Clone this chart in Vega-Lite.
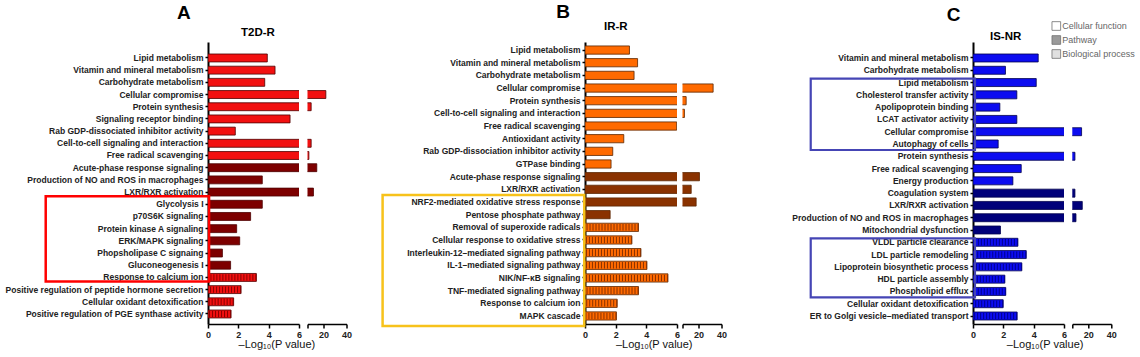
{
  "$schema": "https://vega.github.io/schema/vega-lite/v6.json",
  "padding": {"left": 5, "top": 2, "right": 5, "bottom": 3},
  "background": "white",
  "config": {
    "font": "Liberation Sans",
    "view": {"stroke": null},
    "scale": {"bandPaddingInner": 0.35},
    "axis": {"grid": false, "domainColor": "#000", "tickColor": "#000", "labelColor": "#222", "labelFont": "Liberation Sans", "titleFont": "Liberation Sans"},
    "axisY": {"title": null, "domainWidth": 2, "tickWidth": 1.5, "tickSize": 3, "labelFontSize": 8.5, "labelFontWeight": "bold", "labelPadding": 2, "labelLimit": 0},
    "axisX": {"title": null, "domainWidth": 1.5, "tickWidth": 1.5, "tickSize": 4, "labelFontSize": 9, "labelFontWeight": "bold", "labelPadding": 2, "labelFlush": false, "labelOverlap": false},
    "title": {"font": "Liberation Sans", "color": "#000", "fontWeight": "bold"}
  },
  "datasets": {
    "A": [
      {"name": "Lipid metabolism", "value": 3.91, "type": "Cellular function"},
      {"name": "Vitamin and mineral metabolism", "value": 4.42, "type": "Cellular function"},
      {"name": "Carbohydrate metabolism", "value": 3.74, "type": "Cellular function"},
      {"name": "Cellular compromise", "value": 22, "type": "Cellular function"},
      {"name": "Protein synthesis", "value": 9.2, "type": "Cellular function"},
      {"name": "Signaling receptor binding", "value": 5.41, "type": "Cellular function"},
      {"name": "Rab GDP-dissociated inhibitor activity", "value": 1.8, "type": "Cellular function"},
      {"name": "Cell-to-cell signaling and interaction", "value": 9.2, "type": "Cellular function"},
      {"name": "Free radical scavenging", "value": 7.2, "type": "Cellular function"},
      {"name": "Acute-phase response signaling", "value": 14.1, "type": "Pathway"},
      {"name": "Production of NO and ROS in macrophages", "value": 3.58, "type": "Pathway"},
      {"name": "LXR/RXR activation", "value": 11.2, "type": "Pathway"},
      {"name": "Glycolysis I", "value": 3.58, "type": "Pathway"},
      {"name": "p70S6K signaling", "value": 2.81, "type": "Pathway"},
      {"name": "Protein kinase A signaling", "value": 1.89, "type": "Pathway"},
      {"name": "ERK/MAPK signaling", "value": 2.09, "type": "Pathway"},
      {"name": "Phopsholipase C signaing", "value": 0.95, "type": "Pathway"},
      {"name": "Gluconeogenesis I", "value": 1.49, "type": "Pathway"},
      {"name": "Response to calcium ion", "value": 3.19, "type": "Biological process"},
      {"name": "Positive regulation of peptide hormone secretion", "value": 2.18, "type": "Biological process"},
      {"name": "Cellular oxidant detoxification", "value": 1.69, "type": "Biological process"},
      {"name": "Positive regulation of PGE synthase activity", "value": 1.52, "type": "Biological process"}
    ],
    "B": [
      {"name": "Lipid metabolism", "value": 2.9, "type": "Cellular function"},
      {"name": "Vitamin and mineral metabolism", "value": 3.43, "type": "Cellular function"},
      {"name": "Carbohydrate metabolism", "value": 3.2, "type": "Cellular function"},
      {"name": "Cellular compromise", "value": 32.7, "type": "Cellular function"},
      {"name": "Protein synthesis", "value": 9.2, "type": "Cellular function"},
      {"name": "Cell-to-cell signaling and interaction", "value": 7.7, "type": "Cellular function"},
      {"name": "Free radical scavenging", "value": 5.98, "type": "Cellular function"},
      {"name": "Antioxidant activity", "value": 2.53, "type": "Cellular function"},
      {"name": "Rab GDP-dissociation inhibitor activity", "value": 1.81, "type": "Cellular function"},
      {"name": "GTPase binding", "value": 1.7, "type": "Cellular function"},
      {"name": "Acute-phase response signaling", "value": 20.8, "type": "Pathway"},
      {"name": "LXR/RXR activation", "value": 13.6, "type": "Pathway"},
      {"name": "NRF2-mediated oxidative stress response", "value": 17.9, "type": "Pathway"},
      {"name": "Pentose phosphate pathway", "value": 1.64, "type": "Pathway"},
      {"name": "Removal of superoxide radicals", "value": 3.49, "type": "Biological process"},
      {"name": "Cellular response to oxidative stress", "value": 3.06, "type": "Biological process"},
      {"name": "Interleukin-12–mediated signaling pathway", "value": 3.65, "type": "Biological process"},
      {"name": "IL-1–mediated signaling pathway", "value": 4.04, "type": "Biological process"},
      {"name": "NIK/NF-κB signaling", "value": 5.41, "type": "Biological process"},
      {"name": "TNF-mediated signaling pathway", "value": 3.49, "type": "Biological process"},
      {"name": "Response to calcium ion", "value": 2.1, "type": "Biological process"},
      {"name": "MAPK cascade", "value": 2.05, "type": "Biological process"}
    ],
    "C": [
      {"name": "Vitamin and mineral metabolism", "value": 4.3, "type": "Cellular function"},
      {"name": "Carbohydrate metabolism", "value": 2.14, "type": "Cellular function"},
      {"name": "Lipid metabolism", "value": 4.17, "type": "Cellular function"},
      {"name": "Cholesterol transfer activity", "value": 2.89, "type": "Cellular function"},
      {"name": "Apolipoprotein binding", "value": 1.77, "type": "Cellular function"},
      {"name": "LCAT activator activity", "value": 2.89, "type": "Cellular function"},
      {"name": "Cellular compromise", "value": 14.1, "type": "Cellular function"},
      {"name": "Autophagy of cells", "value": 1.66, "type": "Cellular function"},
      {"name": "Protein synthesis", "value": 8.3, "type": "Cellular function"},
      {"name": "Free radical scavenging", "value": 3.18, "type": "Cellular function"},
      {"name": "Energy production", "value": 2.63, "type": "Cellular function"},
      {"name": "Coagulation system", "value": 8.3, "type": "Pathway"},
      {"name": "LXR/RXR activation", "value": 14.7, "type": "Pathway"},
      {"name": "Production of NO and ROS in macrophages", "value": 9.2, "type": "Pathway"},
      {"name": "Mitochondrial dysfunction", "value": 1.81, "type": "Pathway"},
      {"name": "VLDL particle clearance", "value": 2.96, "type": "Biological process"},
      {"name": "LDL particle remodeling", "value": 3.51, "type": "Biological process"},
      {"name": "Lipoprotein biosynthetic process", "value": 3.22, "type": "Biological process"},
      {"name": "HDL particle assembly", "value": 2.1, "type": "Biological process"},
      {"name": "Phospholipid efflux", "value": 2.16, "type": "Biological process"},
      {"name": "Cellular oxidant detoxification", "value": 1.99, "type": "Biological process"},
      {"name": "ER to Golgi vesicle–mediated transport", "value": 2.91, "type": "Biological process"}
    ],
    "boxesA": [{"from": "Glycolysis I", "to": "Response to calcium ion"}],
    "boxesB": [{"from": "NRF2-mediated oxidative stress response", "to": "MAPK cascade"}],
    "boxesC": [
      {"from": "Lipid metabolism", "to": "Autophagy of cells"},
      {"from": "VLDL particle clearance", "to": "Phospholipid efflux"}
    ]
  },
  "spacing": 29,
  "resolve": {"scale": {"color": "independent", "fill": "independent"}, "legend": {"fill": "independent", "color": "independent"}},
  "hconcat": [
    {
      "title": {"text": "A", "fontSize": 19, "anchor": "start", "frame": "bounds", "dx": 172, "offset": 4.3},
      "resolve": {"scale": {"color": "independent", "fill": "independent"}},
      "hconcat": [
        {
          "title": {"text": "–Log₁₀(P value)", "orient": "bottom", "fontSize": 11, "fontWeight": "normal", "color": "#111", "anchor": "start", "frame": "bounds", "dx": 233.5, "offset": 0},
          "spacing": 4.5,
          "resolve": {"scale": {"color": "independent", "fill": "independent"}},
          "hconcat": [
            {
              "width": 91, "height": 282,
              "title": {"text": "T2D-R", "fontSize": 11.5, "anchor": "start", "frame": "group", "dx": 33, "offset": 3.6},
              "layer": [
                {
                  "data": {"name": "A"},
                  "mark": {"type": "bar", "clip": true, "stroke": "#4d0000", "strokeWidth": 0.8},
                  "encoding": {
                    "y": {"field": "name", "type": "nominal", "scale": {"domain": ["Lipid metabolism","Vitamin and mineral metabolism","Carbohydrate metabolism","Cellular compromise","Protein synthesis","Signaling receptor binding","Rab GDP-dissociated inhibitor activity","Cell-to-cell signaling and interaction","Free radical scavenging","Acute-phase response signaling","Production of NO and ROS in macrophages","LXR/RXR activation","Glycolysis I","p70S6K signaling","Protein kinase A signaling","ERK/MAPK signaling","Phopsholipase C signaing","Gluconeogenesis I","Response to calcium ion","Positive regulation of peptide hormone secretion","Cellular oxidant detoxification","Positive regulation of PGE synthase activity"], "paddingInner": 0.35, "paddingOuter": 0.74, "align": 0.665}},
                    "x": {"field": "value", "type": "quantitative", "scale": {"domain": [0, 6], "nice": false, "zero": true}, "axis": {"values": [0, 2, 4, 6], "labelOverlap": false, "labelBound": false, "title": null}},
                    "color": {"field": "type", "type": "nominal", "scale": {"domain": ["Pathway", "Cellular function", "Biological process"], "range": ["#7d0000", "#f21010", "#f21010"]}, "legend": null}
                  }
                },
                {
                  "data": {"name": "A"},
                  "transform": [{"filter": "datum.type === 'Biological process'"}],
                  "mark": {"type": "rule", "clip": true, "strokeWidth": 6.4, "strokeDash": [1, 2], "strokeCap": "butt", "color": "#8a0000"},
                  "encoding": {"y": {"field": "name", "type": "nominal"}, "x": {"field": "value", "type": "quantitative", "axis": {"values": [0, 2, 4, 6], "labelOverlap": false, "labelBound": false, "title": null}}, "x2": {"datum": 0}}
                },
                {
                  "data": {"name": "boxesA"},
                  "mark": {"type": "rect", "filled": false, "stroke": "#ff0000", "strokeWidth": 2.5, "yOffset": -4, "y2Offset": 0},
                  "encoding": {"y": {"field": "from", "type": "nominal", "bandPosition": 0}, "y2": {"field": "to", "bandPosition": 1}, "x": {"datum": -10.7, "type": "quantitative", "axis": {"values": [0, 2, 4, 6], "labelOverlap": false, "labelBound": false, "title": null}}, "x2": {"datum": 0.07}}
                }
              ]
            },
            {
              "width": 39, "height": 282,
              "layer": [
                {
                  "data": {"name": "A"},
                  "transform": [{"filter": "datum.value > 6"}],
                  "mark": {"type": "bar", "clip": true, "stroke": "#4d0000", "strokeWidth": 0.8},
                  "encoding": {
                    "y": {"field": "name", "type": "nominal", "axis": null, "scale": {"domain": ["Lipid metabolism","Vitamin and mineral metabolism","Carbohydrate metabolism","Cellular compromise","Protein synthesis","Signaling receptor binding","Rab GDP-dissociated inhibitor activity","Cell-to-cell signaling and interaction","Free radical scavenging","Acute-phase response signaling","Production of NO and ROS in macrophages","LXR/RXR activation","Glycolysis I","p70S6K signaling","Protein kinase A signaling","ERK/MAPK signaling","Phopsholipase C signaing","Gluconeogenesis I","Response to calcium ion","Positive regulation of peptide hormone secretion","Cellular oxidant detoxification","Positive regulation of PGE synthase activity"], "paddingInner": 0.35, "paddingOuter": 0.74, "align": 0.665}},
                    "x": {"field": "value", "type": "quantitative", "scale": {"domain": [6, 40], "nice": false, "zero": false}, "axis": {"values": [6, 20, 40], "labelOverlap": false, "labelExpr": "datum.value == 6 ? '' : datum.label", "title": null}},
                    "color": {"field": "type", "type": "nominal", "scale": {"domain": ["Pathway", "Cellular function", "Biological process"], "range": ["#7d0000", "#f21010", "#f21010"]}, "legend": null}
                  }
                }
              ]
            }
          ]
        }
      ]
    },
    {
      "spacing": 64,
      "resolve": {"scale": {"color": "independent", "fill": "independent"}, "legend": {"fill": "independent", "color": "independent"}},
      "hconcat": [
        {
          "title": {"text": "B", "fontSize": 19, "anchor": "start", "frame": "bounds", "dx": 175, "offset": -1.1},
          "resolve": {"scale": {"color": "independent", "fill": "independent"}},
          "hconcat": [
            {
              "title": {"text": "–Log₁₀(P value)", "orient": "bottom", "fontSize": 11, "fontWeight": "normal", "color": "#111", "anchor": "start", "frame": "bounds", "dx": 234.6, "offset": 0},
              "spacing": 1.5,
              "resolve": {"scale": {"color": "independent", "fill": "independent"}},
              "hconcat": [
                {
                  "width": 92, "height": 282,
                  "title": {"text": "IR-R", "fontSize": 11.5, "anchor": "start", "frame": "group", "dx": 19, "offset": 10},
                  "layer": [
                    {
                      "data": {"name": "B"},
                      "mark": {"type": "bar", "clip": true, "stroke": "#5a2600", "strokeWidth": 0.8},
                      "encoding": {
                        "y": {"field": "name", "type": "nominal", "scale": {"domain": ["Lipid metabolism","Vitamin and mineral metabolism","Carbohydrate metabolism","Cellular compromise","Protein synthesis","Cell-to-cell signaling and interaction","Free radical scavenging","Antioxidant activity","Rab GDP-dissociation inhibitor activity","GTPase binding","Acute-phase response signaling","LXR/RXR activation","NRF2-mediated oxidative stress response","Pentose phosphate pathway","Removal of superoxide radicals","Cellular response to oxidative stress","Interleukin-12–mediated signaling pathway","IL-1–mediated signaling pathway","NIK/NF-κB signaling","TNF-mediated signaling pathway","Response to calcium ion","MAPK cascade"], "paddingInner": 0.35, "paddingOuter": 0.31, "align": 0.5}},
                        "x": {"field": "value", "type": "quantitative", "scale": {"domain": [0, 6], "nice": false, "zero": true}, "axis": {"values": [0, 2, 4, 6], "labelOverlap": false, "labelBound": false, "title": null}},
                        "color": {"field": "type", "type": "nominal", "scale": {"domain": ["Pathway", "Cellular function", "Biological process"], "range": ["#8a3200", "#ff6a00", "#ff6a00"]}, "legend": null}
                      }
                    },
                    {
                      "data": {"name": "B"},
                      "transform": [{"filter": "datum.type === 'Biological process'"}],
                      "mark": {"type": "rule", "clip": true, "strokeWidth": 6.6, "strokeDash": [1, 2], "strokeCap": "butt", "color": "#8a3200"},
                      "encoding": {"y": {"field": "name", "type": "nominal"}, "x": {"field": "value", "type": "quantitative", "axis": {"values": [0, 2, 4, 6], "labelOverlap": false, "labelBound": false, "title": null}}, "x2": {"datum": 0}}
                    },
                    {
                      "data": {"name": "boxesB"},
                      "mark": {"type": "rect", "filled": false, "stroke": "#f7c21b", "strokeWidth": 2.5, "yOffset": -3, "y2Offset": 6},
                      "encoding": {"y": {"field": "from", "type": "nominal", "bandPosition": 0}, "y2": {"field": "to", "bandPosition": 1}, "x": {"datum": -13.2, "type": "quantitative", "axis": {"values": [0, 2, 4, 6], "labelOverlap": false, "labelBound": false, "title": null}}, "x2": {"datum": -0.05}}
                    }
                  ]
                },
                {
                  "width": 39, "height": 282,
                  "layer": [
                    {
                      "data": {"name": "B"},
                      "transform": [{"filter": "datum.value > 6"}],
                      "mark": {"type": "bar", "clip": true, "stroke": "#5a2600", "strokeWidth": 0.8},
                      "encoding": {
                        "y": {"field": "name", "type": "nominal", "axis": null, "scale": {"domain": ["Lipid metabolism","Vitamin and mineral metabolism","Carbohydrate metabolism","Cellular compromise","Protein synthesis","Cell-to-cell signaling and interaction","Free radical scavenging","Antioxidant activity","Rab GDP-dissociation inhibitor activity","GTPase binding","Acute-phase response signaling","LXR/RXR activation","NRF2-mediated oxidative stress response","Pentose phosphate pathway","Removal of superoxide radicals","Cellular response to oxidative stress","Interleukin-12–mediated signaling pathway","IL-1–mediated signaling pathway","NIK/NF-κB signaling","TNF-mediated signaling pathway","Response to calcium ion","MAPK cascade"], "paddingInner": 0.35, "paddingOuter": 0.31, "align": 0.5}},
                        "x": {"field": "value", "type": "quantitative", "scale": {"domain": [6, 40], "nice": false, "zero": false}, "axis": {"values": [6, 20, 40], "labelOverlap": false, "labelExpr": "datum.value == 6 ? '' : datum.label", "title": null}},
                        "color": {"field": "type", "type": "nominal", "scale": {"domain": ["Pathway", "Cellular function", "Biological process"], "range": ["#8a3200", "#ff6a00", "#ff6a00"]}, "legend": null}
                      }
                    }
                  ]
                }
              ]
            }
          ]
        },
        {
          "title": {"text": "C", "fontSize": 19, "anchor": "start", "frame": "bounds", "dx": 155, "offset": -4},
          "resolve": {"scale": {"color": "independent", "fill": "independent"}, "legend": {"fill": "independent"}},
          "hconcat": [
            {
              "title": {"text": "–Log₁₀(P value)", "orient": "bottom", "fontSize": 11, "fontWeight": "normal", "color": "#111", "anchor": "start", "frame": "bounds", "dx": 215, "offset": 0},
              "spacing": -15.7,
              "resolve": {"scale": {"color": "independent", "fill": "independent"}, "legend": {"fill": "independent"}},
              "hconcat": [
                {
                  "width": 91, "height": 282,
                  "title": {"text": "IS-NR", "fontSize": 11.5, "anchor": "start", "frame": "group", "dx": 17, "offset": -0.4},
                  "layer": [
                    {
                      "data": {"name": "C"},
                      "mark": {"type": "bar", "clip": true, "stroke": "#00004d", "strokeWidth": 0.8},
                      "encoding": {
                        "y": {"field": "name", "type": "nominal", "scale": {"domain": ["Vitamin and mineral metabolism","Carbohydrate metabolism","Lipid metabolism","Cholesterol transfer activity","Apolipoprotein binding","LCAT activator activity","Cellular compromise","Autophagy of cells","Protein synthesis","Free radical scavenging","Energy production","Coagulation system","LXR/RXR activation","Production of NO and ROS in macrophages","Mitochondrial dysfunction","VLDL particle clearance","LDL particle remodeling","Lipoprotein biosynthetic process","HDL particle assembly","Phospholipid efflux","Cellular oxidant detoxification","ER to Golgi vesicle–mediated transport"], "paddingInner": 0.35, "paddingOuter": 0.651, "align": 0.75}},
                        "x": {"field": "value", "type": "quantitative", "scale": {"domain": [0, 6], "nice": false, "zero": true}, "axis": {"values": [0, 2, 4, 6], "labelOverlap": false, "labelBound": false, "title": null}},
                        "color": {"field": "type", "type": "nominal", "scale": {"domain": ["Pathway", "Cellular function", "Biological process"], "range": ["#00007a", "#0c0cf0", "#0c0cf0"]}, "legend": null}
                      }
                    },
                    {
                      "data": {"name": "C"},
                      "transform": [{"filter": "datum.type === 'Biological process'"}],
                      "mark": {"type": "rule", "clip": true, "strokeWidth": 6.4, "strokeDash": [1, 2], "strokeCap": "butt", "color": "#000090"},
                      "encoding": {"y": {"field": "name", "type": "nominal"}, "x": {"field": "value", "type": "quantitative", "axis": {"values": [0, 2, 4, 6], "labelOverlap": false, "labelBound": false, "title": null}}, "x2": {"datum": 0}}
                    },
                    {
                      "data": {"name": "boxesC"},
                      "mark": {"type": "rect", "filled": false, "stroke": "#4545b5", "strokeWidth": 2.2, "yOffset": 0, "y2Offset": 2},
                      "encoding": {"y": {"field": "from", "type": "nominal", "bandPosition": 0}, "y2": {"field": "to", "bandPosition": 1}, "x": {"datum": -10.7, "type": "quantitative", "axis": {"values": [0, 2, 4, 6], "labelOverlap": false, "labelBound": false, "title": null}}, "x2": {"datum": 0.13}}
                    }
                  ]
                },
                {
                  "width": 39, "height": 282,
                  "layer": [
                    {
                      "data": {"name": "C"},
                      "transform": [{"filter": "datum.value > 6"}],
                      "mark": {"type": "bar", "clip": true, "stroke": "#00004d", "strokeWidth": 0.8},
                      "encoding": {
                        "y": {"field": "name", "type": "nominal", "axis": null, "scale": {"domain": ["Vitamin and mineral metabolism","Carbohydrate metabolism","Lipid metabolism","Cholesterol transfer activity","Apolipoprotein binding","LCAT activator activity","Cellular compromise","Autophagy of cells","Protein synthesis","Free radical scavenging","Energy production","Coagulation system","LXR/RXR activation","Production of NO and ROS in macrophages","Mitochondrial dysfunction","VLDL particle clearance","LDL particle remodeling","Lipoprotein biosynthetic process","HDL particle assembly","Phospholipid efflux","Cellular oxidant detoxification","ER to Golgi vesicle–mediated transport"], "paddingInner": 0.35, "paddingOuter": 0.651, "align": 0.75}},
                        "x": {"field": "value", "type": "quantitative", "scale": {"domain": [6, 40], "nice": false, "zero": false}, "axis": {"values": [6, 20, 40], "labelOverlap": false, "labelExpr": "datum.value == 6 ? '' : datum.label", "title": null}},
                        "color": {"field": "type", "type": "nominal", "scale": {"domain": ["Pathway", "Cellular function", "Biological process"], "range": ["#00007a", "#0c0cf0", "#0c0cf0"]}, "legend": null}
                      }
                    },
                    {
                      "data": {"name": "C"},
                      "mark": {"type": "point", "shape": "square", "filled": true, "clip": true, "stroke": "#333", "strokeWidth": 0.8},
                      "encoding": {
                        "y": {"field": "name", "type": "nominal"},
                        "x": {"datum": 0, "type": "quantitative", "axis": {"values": [6, 20, 40], "labelOverlap": false, "labelExpr": "datum.value == 6 ? '' : datum.label", "title": null}},
                        "fill": {"field": "type", "type": "nominal", "scale": {"domain": ["Cellular function", "Pathway", "Biological process"], "range": ["#ffffff", "#707070", "#d4d4d4"]}, "legend": {"title": null, "orient": "none", "legendX": -21, "legendY": -21, "symbolType": "square", "symbolSize": 75, "symbolStrokeColor": "#333", "symbolStrokeWidth": 0.8, "labelFontSize": 9, "labelColor": "#666", "labelFont": "Liberation Sans", "rowPadding": 2, "labelOffset": 1}}
                      }
                    }
                  ]
                }
              ]
            }
          ]
        }
      ]
    }
  ]
}
